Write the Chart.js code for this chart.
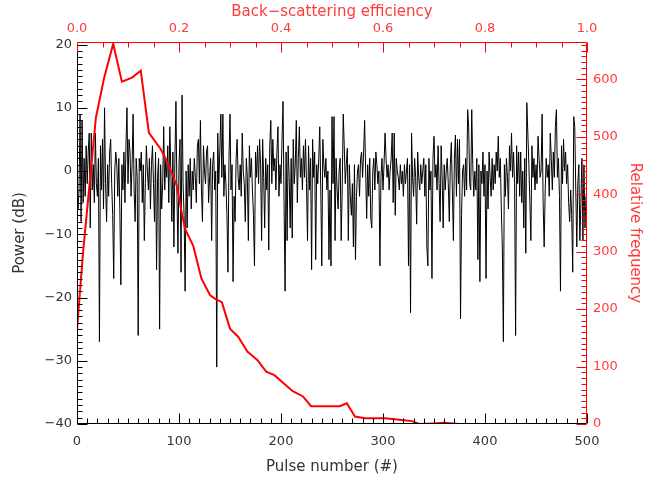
<!DOCTYPE html>
<html><head><meta charset="utf-8">
<script src="https://cdn.jsdelivr.net/npm/chart.js@4.4.0/dist/chart.umd.min.js"></script>
<style>html,body{margin:0;padding:0;background:#fff}#wrap{width:653px;height:481px}</style>
</head><body><div id="wrap"><canvas id="c" width="653" height="481"></canvas></div>
<script>
// Power (dB) for each pulse 0..499
const power = [
0,-6,-3,9,-8,8,-5,2,-4,4,
-2,3,6,-9,6,-3,1,-5,6,-2,
-4,2,-27,4,-3,5,-6,10,-2,-8,
1,-4,3,5,-2,-7,-17,0,3,1,
-4,2,-6,-18,1,-3,3,-5,4,10,
-2,5,3,-4,1,9,-3,-8,2,-1,
-26,2,0,3,-5,1,-11,-2,4,0,
-3,2,-6,1,4,-2,-8,3,-15.6,-1,
2,-25,1,-6,-2,7,-3,2,-1,4,
-5,7,0,-8,3,-12,2,11,-4,-13,
1,5,-16,12,-2,-7,-19,0,-9,1,
-4,2,-6,0,-3,2,-1,-5,4,5,
-2,8,-3,-8,4,0,-2,3,4,-5,
-1,2,-11,1,3,-3,0,-31,6,-2,
3,9,-1,9,-4,1,-2,-7,-16,2,
9,-3,1,-17.5,-4,-8,2,5,-1,-3,
1,-4,6,0,-2,-8,2,-1,-11,4,
-1,2,-3,-7,-15,3,-1,4,-2,5,
1,-11,5,-1,-9,2,-3,1,-12.5,4,
8,-2,5,0,2,-3,3,7,-4,1,
-2,5,11,-5,-19,3,-11,4,-1,-9,
2,-10.6,5,-2,1,8,-5,2,7,-1,
2,-3,4,-1,5,-2,-11,4,-3,2,
-15.6,5,-1,3,-14,1,-2,2,7,-3,
-15,5,1,-1,2,-3,0,-14,-3,-15,
8.6,-2,8.6,-11,2,-3,-6,0,2,-11,
-3,9,4,-2,1,3.6,-11,1,-4,-7,
-2,-12,1,-14,-4,0,1,-4,2,3,
-1,3,8,0,-7.5,1,-4,2,-7.5,-9,
0,2,-3,3,1,-2,0,-15,-1,2,
-3,1,6,2,-1,1,-3,0,2,6,
-5,6,-7,2,0,-1,-3,1,-2,0,
-4,1,-2,0,2,-15,1,-22.4,6,-1,
-4,2,-1,-8.4,3,-1,-3,1,-2,0,
2,-4,1,-12,-15,2,-3,0,-17,2,
5.5,-1,1,-3,4,-2,-8,4,-1,-9,
1,-3,0,2,-2,-8,1,4.5,-3,-11,
2,5.7,-4,5,-2,5,-23.4,-7,0,1,
-4,2,-3,9.7,7,-2,-3,9.7,1,-4,
0,-3,2,-14,1,-17.5,0,-2,3,-4,
1,-17,0,-6,3,-1,-4,2,-3,1,
-2,3,0,5.5,-1,2,-6,-12,-27,1,
-4,2,-1,-6,4,0,6,-1,3,-2,
-26,4,-2,3,-4,3,-5,0,-9,2,
-13,10.8,6,1,-5,-11,4,-1,2,-3,
1,-2,5.5,2,-1,0,9,-5,-12,-3,
2,-1,1,-4,6,2,-3,3,-1,7,
9.7,-1,2,-4,-19,4,-2,5,0,3,
-2,1,-5,-8,-3,-7,-16,8.6,7,-3,
-12,-2,1,-11,-5,2,-11,1,-9,-4
];
// Back-scattering efficiency histogram (red)
const efficiency = [0,0.012,0.037,0.053,0.071,0.088,0.108,0.125,0.141,0.163,0.171,0.183,0.196,0.203,0.212,0.228,0.244,0.261,0.271,0.284,0.300,0.316,0.334,0.338,0.354,0.371,0.387,0.423,0.443,0.459,0.502,0.515,0.529,0.545,0.565,0.604,0.637,0.657,0.671,0.70,0.72,0.75,0.98];
const relFrequency = [164,300,533,602,662,596,603,615,507,480,467,443,414,379,339,310,253,224,218,212,166,152,126,123,111,91,85,57,48,31,31,31,36,13,10,10,7,5,0,1,2,0,0];
// tick labels
const pulseTicks = [0,100,200,300,400,500];
const powerTicks = [-40,-30,-20,-10,0,10,20];
const effTicks = [0,0.2,0.4,0.6,0.8,1.0];
const freqTicks = [0,100,200,300,400,500,600];

const BLACK_TXT = '#333';
const RED = '#ff0000';
const RED_TXT = '#ff3a3a';
const tickFont = {family:'DejaVu Sans', size:13};
const titleFont = {family:'DejaVu Sans', size:15};

function setTicks(arr){ return (scale)=>{ scale.ticks = arr.map(v=>({value:v})); }; }

const frame = {
  id:'frame',
  afterDraw(chart){
    const {ctx, chartArea:{left,right,top,bottom}, scales} = chart;
    ctx.save();
    ctx.lineWidth = 1;
    const L = Math.round(left)+0.5, R = Math.round(right)-0.5, T = Math.round(top)+0.5, B = Math.round(bottom)-0.5;
    ctx.strokeStyle = '#000';
    ctx.beginPath();
    ctx.moveTo(L,T); ctx.lineTo(L,B); ctx.lineTo(R,B);
    for(let v=0; v<=500; v+=10){
      const x = Math.round(scales.x.getPixelForValue(v))+0.5;
      const len = (v%100===0)?10:5;
      ctx.moveTo(x,B); ctx.lineTo(x,B-len);
    }
    for(let v=-40; v<=20; v+=1){
      const y = Math.round(scales.y.getPixelForValue(v))+0.5;
      const len = (v%10===0)?10:5;
      ctx.moveTo(L,y); ctx.lineTo(L+len,y);
    }
    ctx.stroke();
    ctx.strokeStyle = RED;
    ctx.beginPath();
    ctx.moveTo(L,T); ctx.lineTo(R,T); ctx.lineTo(R,B);
    for(let i=0; i<=20; i++){
      const v = i*0.05;
      const x = Math.round(scales.x2.getPixelForValue(v))+0.5;
      const len = (i%4===0)?10:5;
      ctx.moveTo(x,T); ctx.lineTo(x,T+len);
    }
    for(let v=0; v<=660; v+=10){
      const y = Math.round(scales.y2.getPixelForValue(v))+0.5;
      const len = (v%100===0)?10:5;
      ctx.moveTo(R,y); ctx.lineTo(R-len,y);
    }
    ctx.stroke();
    ctx.restore();
  }
};

new Chart(document.getElementById('c'), {
  type:'line',
  data:{
    datasets:[
      {label:'Relative frequency', data: efficiency.map((e,i)=>({x:e,y:relFrequency[i]})), xAxisID:'x2', yAxisID:'y2',
       borderColor:RED, borderWidth:2, pointRadius:0, tension:0, fill:false},
      {label:'Power', data: power.map((p,i)=>({x:i,y:p})), xAxisID:'x', yAxisID:'y',
       borderColor:'#000', borderWidth:1, pointRadius:0, tension:0, fill:false}
    ]
  },
  options:{
    responsive:false, animation:false, devicePixelRatio:1,
    layout:{padding:0},
    plugins:{legend:{display:false}, tooltip:{enabled:false}},
    scales:{
      x:{type:'linear', position:'bottom', min:0, max:500,
         afterBuildTicks:setTicks(pulseTicks), afterFit:(s)=>{s.height=57;},
         grid:{display:false, drawTicks:false}, border:{display:false},
         ticks:{color:BLACK_TXT, font:tickFont, padding:10, maxRotation:0, callback:(v)=>String(v)},
         title:{display:true, text:'Pulse number (#)', color:BLACK_TXT, font:titleFont, padding:{top:0,bottom:5}}},
      x2:{type:'linear', position:'top', min:0, max:1,
         afterBuildTicks:setTicks(effTicks), afterFit:(s)=>{s.height=42;},
         grid:{display:false, drawTicks:false}, border:{display:false},
         ticks:{color:RED_TXT, font:tickFont, padding:6, maxRotation:0, callback:(v)=>Number(v).toFixed(1)},
         title:{display:true, text:'Back\u2212scattering efficiency', color:RED_TXT, font:titleFont, padding:{top:3,bottom:0}}},
      y:{type:'linear', position:'left', min:-40, max:20.4,
         afterBuildTicks:setTicks(powerTicks), afterFit:(s)=>{s.width=77;},
         grid:{display:false, drawTicks:false}, border:{display:false},
         ticks:{color:BLACK_TXT, font:tickFont, padding:5, callback:(v)=>String(v).replace('-','\u2212')},
         title:{display:true, text:'Power (dB)', color:BLACK_TXT, font:titleFont, padding:{top:11,bottom:0}}},
      y2:{type:'linear', position:'right', min:0, max:665,
         afterBuildTicks:setTicks(freqTicks), afterFit:(s)=>{s.width=66;},
         grid:{display:false, drawTicks:false}, border:{display:false},
         ticks:{color:RED_TXT, font:tickFont, padding:6, callback:(v)=>String(v)},
         title:{display:true, text:'Relative frequency', color:RED_TXT, font:titleFont, padding:{top:9,bottom:0}}}
    }
  },
  plugins:[frame]
});
</script>
</body></html>
